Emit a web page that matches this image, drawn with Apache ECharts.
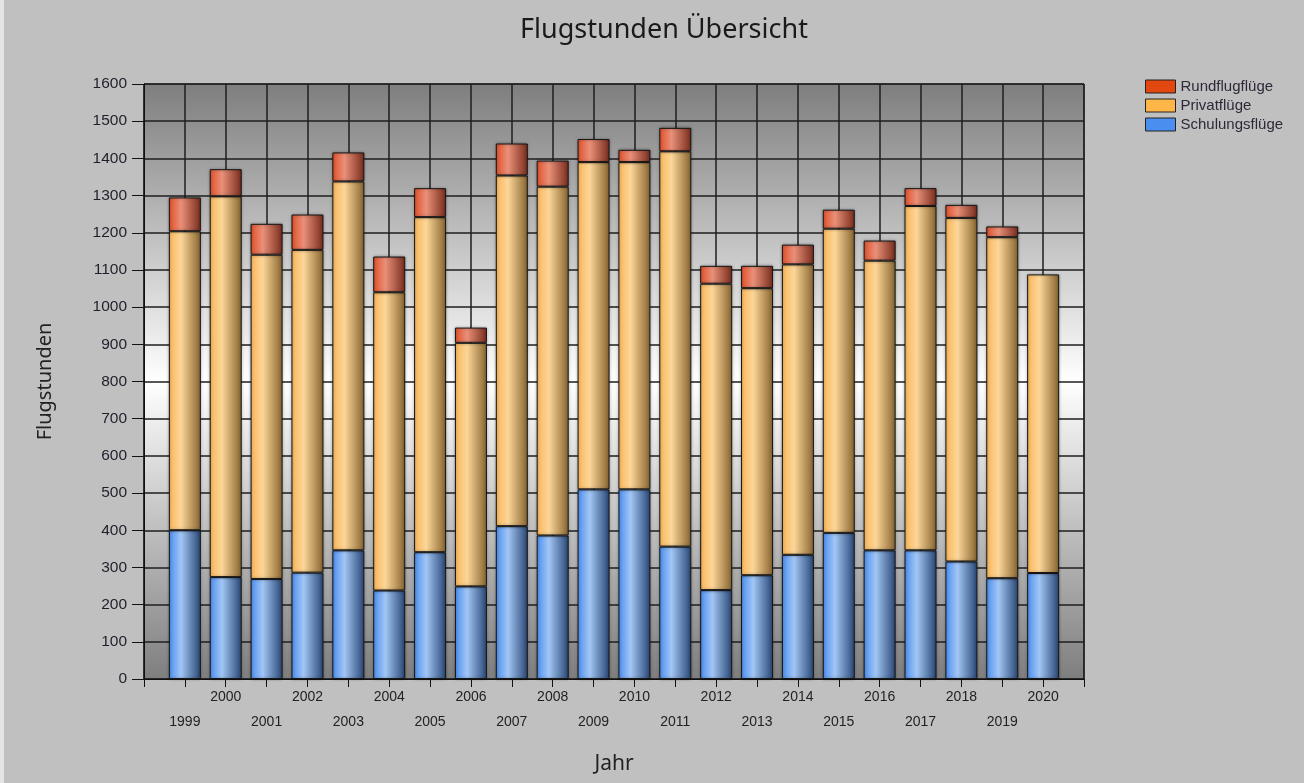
<!DOCTYPE html>
<html>
<head>
<meta charset="utf-8">
<title>Flugstunden Übersicht</title>
<script src="https://cdn.jsdelivr.net/npm/echarts@6.0.0/dist/echarts.min.js"></script>
<style>
  html, body { margin: 0; padding: 0; background: #c0c0c0; }
  #main { width: 1304px; height: 783px; }
</style>
</head>
<body>
<div id="main"></div>
<script>
// Jahre und Flugstunden je Kategorie
var years = ['1999', '2000', '2001', '2002', '2003', '2004', '2005', '2006', '2007', '2008', '2009',
  '2010', '2011', '2012', '2013', '2014', '2015', '2016', '2017', '2018', '2019', '2020'];
var schulung = [400, 274, 269, 286, 346, 238, 341, 249, 411, 386, 510, 510, 356, 239, 279, 334, 393, 346, 346, 316, 271, 285];
var privat = [804, 1024, 872, 868, 992, 802, 901, 655, 943, 938, 880, 880, 1063, 824, 772, 781, 818, 779, 926, 924, 917, 803];
var rundflug = [91, 73, 83, 95, 78, 96, 78, 41, 86, 70, 62, 33, 63, 48, 60, 53, 51, 54, 48, 35, 29, 0];
var yTicks = [0, 100, 200, 300, 400, 500, 600, 700, 800, 900, 1000, 1100, 1200, 1300, 1400, 1500, 1600];

// leere Kategorie vorne und hinten, damit die Achse wie im Original Rand hat
var cats = [''].concat(years, ['']);
function pad(arr) {
  return ['-'].concat(arr.map(function (v) { return v === 0 ? '-' : v; }), ['-']);
}

function cyl(c0, c1, c2) {
  return new echarts.graphic.LinearGradient(0, 0, 1, 0, [
    {offset: 0, color: c0},
    {offset: 0.38, color: c1},
    {offset: 1, color: c2}
  ]);
}

var myChart = echarts.init(document.getElementById('main'));

var barStyle = function (fill) {
  return {
    color: fill,
    borderColor: '#161616',
    borderWidth: 1,
    shadowColor: 'rgba(0,0,0,0.35)',
    shadowBlur: 3
  };
};

var font = 'Liberation Sans, Arial, sans-serif';

var option = {
  backgroundColor: '#c0c0c0',
  animation: false,
  title: {
    text: 'Flugstunden Übersicht',
    left: 515,
    top: 12,
    textStyle: {fontFamily: 'Noto Sans', fontSize: 27, fontWeight: 'normal', color: '#1a1a1a'}
  },
  legend: {
    orient: 'vertical',
    left: 1140,
    top: 74,
    itemWidth: 30,
    itemHeight: 13,
    itemGap: 4,
    textStyle: {fontFamily: font, fontSize: 15, color: '#2e2838', padding: [0, 0, 0, 0]},
    data: [
      {name: 'Rundflugflüge', icon: 'rect', itemStyle: {color: '#e2470f', borderColor: '#222', borderWidth: 1}},
      {name: 'Privatflüge', icon: 'rect', itemStyle: {color: '#ffb648', borderColor: '#222', borderWidth: 1}},
      {name: 'Schulungsflüge', icon: 'rect', itemStyle: {color: '#4a8ef0', borderColor: '#222', borderWidth: 1}}
    ]
  },
  graphic: [{
    type: 'rect',
    left: 0,
    top: 0,
    shape: {width: 4, height: 783},
    style: {fill: '#e4e4e4'}
  }],
  grid: {
    left: 144,
    right: 220,
    top: 84,
    bottom: 104,
    show: true,
    borderColor: '#111',
    borderWidth: 1,
    backgroundColor: new echarts.graphic.LinearGradient(0, 0, 0, 1, [
      {offset: 0, color: '#7e7e7e'},
      {offset: 0.5, color: '#ffffff'},
      {offset: 1, color: '#7e7e7e'}
    ])
  },
  xAxis: {
    type: 'category',
    data: cats,
    boundaryGap: false,
    name: 'Jahr',
    nameLocation: 'middle',
    nameGap: 75,
    nameTextStyle: {fontFamily: 'Noto Sans', fontSize: 21, color: '#222'},
    axisLine: {lineStyle: {color: '#111', width: 1}},
    axisTick: {show: true, length: 8, interval: 0, lineStyle: {color: '#111'}},
    axisLabel: {
      interval: 0,
      margin: 6,
      fontFamily: font,
      fontSize: 14,
      color: '#222',
      lineHeight: 25,
      formatter: function (value, index) {
        if (!value) return '';
        return index % 2 === 1 ? '\n' + value : value;
      }
    },
    splitLine: {show: true, interval: 0, lineStyle: {color: '#1e1e1e', width: 1.5}}
  },
  yAxis: {
    type: 'value',
    min: yTicks[0],
    max: yTicks[yTicks.length - 1],
    interval: 100,
    name: 'Flugstunden',
    nameLocation: 'middle',
    nameGap: 89,
    nameTextStyle: {fontFamily: 'Noto Sans', fontSize: 20, color: '#222'},
    axisLine: {show: true, lineStyle: {color: '#111', width: 1}},
    axisTick: {show: true, length: 12, lineStyle: {color: '#111'}},
    axisLabel: {
      margin: 17,
      fontFamily: font,
      fontSize: 15.5,
      color: '#1f1f2a',
      formatter: function (v) { return String(v); }
    },
    splitLine: {show: true, lineStyle: {color: '#1e1e1e', width: 1.5}}
  },
  series: [
    {
      name: 'Schulungsflüge',
      type: 'bar',
      stack: 'std',
      barWidth: 32,
      data: pad(schulung),
      itemStyle: barStyle(cyl('#4b8ef0', '#a2c6f5', '#284674'))
    },
    {
      name: 'Privatflüge',
      type: 'bar',
      stack: 'std',
      barWidth: 32,
      data: pad(privat),
      itemStyle: barStyle(cyl('#f9b65a', '#fcd698', '#876430'))
    },
    {
      name: 'Rundflugflüge',
      type: 'bar',
      stack: 'std',
      barWidth: 32,
      data: pad(rundflug),
      itemStyle: barStyle(cyl('#e2502a', '#e99079', '#782c1c'))
    }
  ]
};

myChart.setOption(option);
</script>
</body>
</html>
